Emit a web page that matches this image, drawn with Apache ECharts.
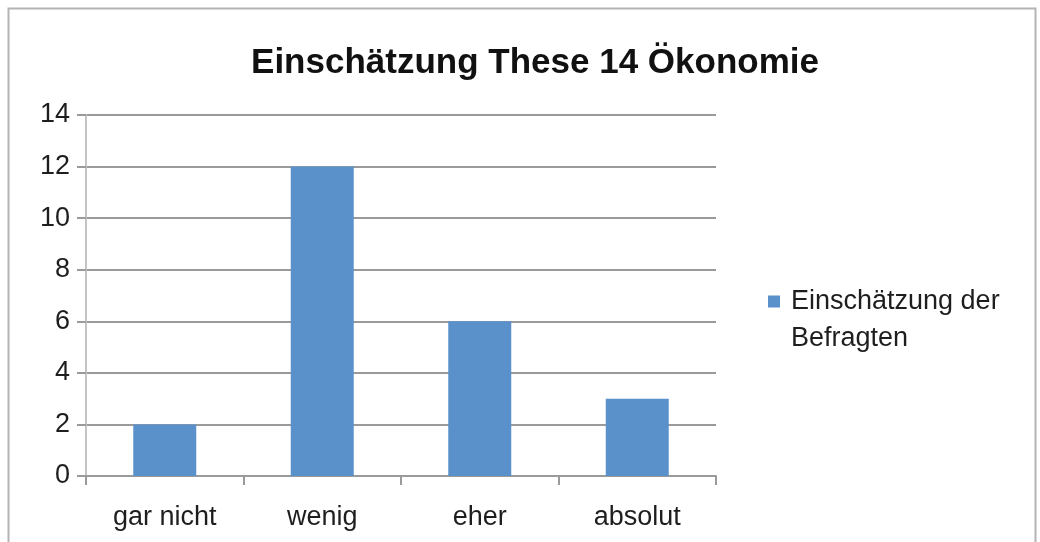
<!DOCTYPE html>
<html>
<head>
<meta charset="utf-8">
<script src="https://cdn.jsdelivr.net/npm/echarts@6/dist/echarts.min.js"></script>
<style>
  html, body { margin: 0; padding: 0; background: #fff; }
  #chart { width: 1040px; height: 542px; }
</style>
</head>
<body>
<div id="chart"></div>
<script>
// Survey answers for thesis 14 (economy)
const categories = ['gar nicht', 'wenig', 'eher', 'absolut'];
const counts = [2, 12, 6, 3];
const seriesName = 'Einschätzung der Befragten';
const legendLines = ['Einschätzung der', 'Befragten'];
const titleText = 'Einschätzung These 14 Ökonomie';

const font = '"Liberation Sans", Arial, sans-serif';
const textColor = '#1e1e1e';
const chart = echarts.init(document.getElementById('chart'), null, { renderer: 'canvas' });

chart.setOption({
  backgroundColor: '#ffffff',
  animation: false,
  graphic: [
    {
      type: 'rect',
      shape: { x: 8.5, y: 8.5, width: 1027, height: 560 },
      style: { fill: 'none', stroke: '#b4b4b4', lineWidth: 2 },
      silent: true
    },
    {
      // second line of the wrapped legend entry
      type: 'text',
      left: 791,
      top: 325,
      style: { text: legendLines[1], font: '27px ' + font, fill: textColor },
      silent: true
    }
  ],
  title: {
    text: titleText,
    left: 530,
    top: 41,
    textAlign: 'center',
    textStyle: { fontFamily: font, fontSize: 35, fontWeight: 'bold', color: '#111' }
  },
  legend: {
    orient: 'vertical',
    left: 763,
    top: 283,
    itemWidth: 12,
    itemHeight: 12,
    itemGap: 0,
    icon: 'rect',
    data: [seriesName],
    formatter: () => legendLines[0],
    textStyle: { fontFamily: font, fontSize: 27, color: textColor, padding: [0, 0, 0, 6] }
  },
  grid: { left: 86, top: 115, width: 630, height: 361, containLabel: false },
  xAxis: {
    type: 'category',
    data: categories,
    axisLine: { lineStyle: { color: '#9a9a9a', width: 2 } },
    axisTick: { show: true, length: 9, lineStyle: { color: '#9a9a9a', width: 2 } },
    axisLabel: { fontFamily: font, fontSize: 27, color: textColor, margin: 28 }
  },
  yAxis: {
    type: 'value',
    min: 0,
    max: 14,
    interval: 2,
    axisLine: { show: true, lineStyle: { color: '#c4c4c4', width: 2 } },
    axisTick: { show: true, length: 9, lineStyle: { color: '#9a9a9a', width: 2 } },
    axisLabel: { fontFamily: font, fontSize: 27, color: textColor, margin: 16 },
    splitLine: { lineStyle: { color: '#9a9a9a', width: 2 } }
  },
  series: [{
    name: seriesName,
    type: 'bar',
    data: counts,
    barWidth: '40%',
    itemStyle: { color: '#5b91cb' }
  }]
});
</script>
</body>
</html>
